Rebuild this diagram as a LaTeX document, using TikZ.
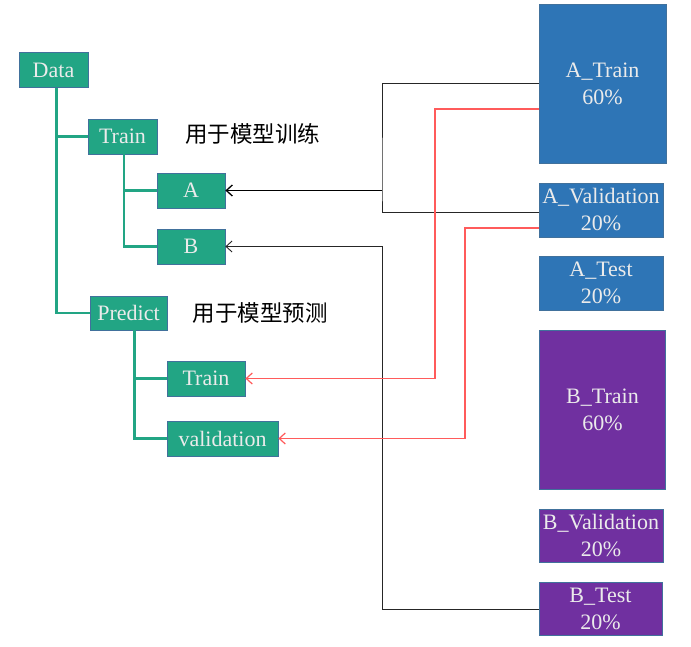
\documentclass[tikz,border=0pt]{standalone}
\usepackage{fontspec}
\setmainfont{Liberation Serif}
\newfontfamily\cjk{Noto Sans CJK SC}
\usetikzlibrary{arrows.meta}

\definecolor{treegreen}{HTML}{22A584}
\definecolor{setblue}{HTML}{2E75B6}
\definecolor{setpurple}{HTML}{7030A0}
\definecolor{boxline}{HTML}{41719C}
\definecolor{linkred}{HTML}{FF5B5B}

\begin{document}
\begin{tikzpicture}[x=1pt,y=-1pt,>={Straight Barb[length=6pt,width=11pt]}]
		\tikzstyle{box}=[draw=boxline,line width=0.8pt,inner sep=0pt,
							text=white!92!black,align=center,
							font=\fontsize{22}{27}\selectfont]
		\tikzstyle{leaf}=[box,fill=treegreen,minimum height=35pt]
		\tikzstyle{aset}=[box,fill=setblue]
		\tikzstyle{bset}=[box,fill=setpurple]
		\tikzstyle{note}=[font=\cjk\fontsize{22.5}{26}\selectfont]
		\tikzstyle{tree}=[draw=treegreen,line width=2.6pt]
		\tikzstyle{link}=[draw=black!85,line width=0.9pt]
		\tikzstyle{red link}=[draw=linkred,line width=1.2pt]

		\useasboundingbox (0,0) rectangle (691,647);

		% tree
		\node[leaf,minimum width=69pt] (data) at (53.5,70) {Data};
		\node[leaf,minimum width=69pt] (train) at (122.5,136.5) {Train};
		\foreach \name/\txt/\y in {a/A/190.5, b/B/246.5}
			\node[leaf,minimum width=68pt] (\name) at (191,\y) {\txt};
		\node[leaf,minimum width=77pt,minimum height=34pt] (predict) at (128.5,313) {Predict};
		\node[leaf,minimum width=78pt] (ptrain) at (206,378.5) {Train};
		\node[leaf,minimum width=111pt] (pval) at (222.5,438.5) {validation};

		% notes
		\node[note] (trainnote) at (252.5,134) {用于模型训练};
		\node[note] (prednote) at (260,313) {用于模型预测};

		% splits
		\node[aset,minimum width=127pt,minimum height=159pt] (atrain) at (602.5,83.5) {A\_Train\\60\%};
		\node[aset,minimum width=124pt,minimum height=54pt] (aval) at (601,210) {A\_Validation\\20\%};
		\node[aset,minimum width=124pt,minimum height=54pt] (atest) at (601,283) {A\_Test\\20\%};
		\node[bset,minimum width=126pt,minimum height=159pt] (btrain) at (602.5,410) {B\_Train\\60\%};
		\node[bset,minimum width=124pt,minimum height=53pt] (bval) at (601,536) {B\_Validation\\20\%};
		\node[bset,minimum width=123pt,minimum height=53pt] (btest) at (600.5,609) {B\_Test\\20\%};

		% tree edges
		\draw[tree] ([xshift=3pt]data.south) |- (train.west);
		\draw[tree] ([xshift=3pt]data.south) |- (predict.west);
		\foreach \leafname in {a, b}
			\draw[tree] ([xshift=1.5pt]train.south) |- (\leafname.west);
		\foreach \leafname in {ptrain, pval}
			\draw[tree] ([xshift=6pt]predict.south) |- (\leafname.west);

		% joins
		\coordinate (ja) at (382,190.5);
		\coordinate (jb) at (382,246.5);
		\coordinate (jr1) at (435,378.5);
		\coordinate (jr2) at (465,438.5);

		% links
		\draw[link] (atrain.west) -| (ja) |- ([yshift=-2.7pt]aval.west);
		\draw[link,line width=1.3pt,draw=black,->] (ja) -- (a.east);
		\draw[link,->] (btest.west) -| (jb) -- (b.east);
		\draw[red link,->] ([yshift=-25.5pt]atrain.west) -| (jr1) -- (ptrain.east);
		\draw[red link,->] ([yshift=-18pt]aval.west) -| (jr2) -- (pval.east);

	\end{tikzpicture}
\end{document}
